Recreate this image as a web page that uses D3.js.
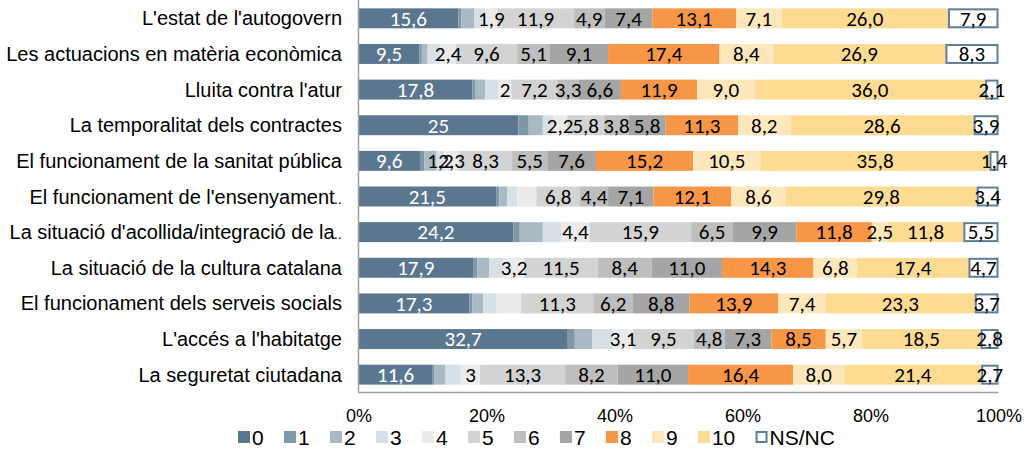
<!DOCTYPE html>
<html>
<head>
<meta charset="utf-8">
<script src="https://cdn.jsdelivr.net/npm/d3@7"></script>
<style>
  body { margin: 0; background: #fff; }
  svg { display: block; }
  .cat { font-family: "Liberation Sans", Arial, sans-serif; font-size: 20px; fill: #000; }
  .tick text { font-family: "Liberation Sans", Arial, sans-serif; font-size: 18px; fill: #000; }
  .lab { font-family: Carlito, Calibri, "Open Sans", sans-serif; font-size: 21px; }
  .leg { font-family: "Liberation Sans", Arial, sans-serif; font-size: 21px; fill: #000; }
</style>
</head>
<body>
<div id="chart"></div>
<script>
// categories (top to bottom)
var categories = [
  "L'estat de l'autogovern",
  "Les actuacions en matèria econòmica",
  "Lluita contra l'atur",
  "La temporalitat dels contractes",
  "El funcionament de la sanitat pública",
  "El funcionament de l'ensenyament…",
  "La situació d'acollida/integració de la…",
  "La situació de la cultura catalana",
  "El funcionament dels serveis socials",
  "L'accés a l'habitatge",
  "La seguretat ciutadana"
];

// answer scale 0..10 plus NS/NC
var seriesNames = ["0", "1", "2", "3", "4", "5", "6", "7", "8", "9", "10", "NS/NC"];

// percentages per category, in series order
var values = [
  [15.6, 0.5, 2.0, 1.7, 1.9, 11.9, 4.9, 7.4, 13.1, 7.1, 26.0, 7.9],
  [9.5, 0.4, 0.9, 2.0, 2.4, 9.6, 5.1, 9.1, 17.4, 8.4, 26.9, 8.3],
  [17.8, 0.5, 1.5, 2.1, 2, 7.2, 3.3, 6.6, 11.9, 9.0, 36.0, 2.1],
  [25, 1.6, 2.2, 1.6, 2.2, 5.8, 3.8, 5.8, 11.3, 8.2, 28.6, 3.9],
  [9.6, 0.7, 1.9, 1.2, 2.3, 8.3, 5.5, 7.6, 15.2, 10.5, 35.8, 1.4],
  [21.5, 0.5, 1.2, 1.6, 3.0, 6.8, 4.4, 7.1, 12.1, 8.6, 29.8, 3.4],
  [24.2, 1.0, 3.6, 2.9, 4.4, 15.9, 6.5, 9.9, 11.8, 2.5, 11.8, 5.5],
  [17.9, 0.7, 1.8, 2.3, 3.2, 11.5, 8.4, 11.0, 14.3, 6.8, 17.4, 4.7],
  [17.3, 0.5, 1.7, 2.1, 3.8, 11.3, 6.2, 8.8, 13.9, 7.4, 23.3, 3.7],
  [32.7, 1.1, 2.7, 3.3, 3.1, 9.5, 4.8, 7.3, 8.5, 5.7, 18.5, 2.8],
  [11.6, 0.3, 1.7, 2.4, 3, 13.3, 8.2, 11.0, 16.4, 8.0, 21.4, 2.7]
];

// data labels as printed on the chart ("" = not shown)
var labels = [
  ["15,6", "", "", "", "1,9", "11,9", "4,9", "7,4", "13,1", "7,1", "26,0", "7,9"],
  ["9,5", "", "", "", "2,4", "9,6", "5,1", "9,1", "17,4", "8,4", "26,9", "8,3"],
  ["17,8", "", "", "", "2", "7,2", "3,3", "6,6", "11,9", "9,0", "36,0", "2,1"],
  ["25", "", "", "", "2,2", "5,8", "3,8", "5,8", "11,3", "8,2", "28,6", "3,9"],
  ["9,6", "", "", "1,2", "2,3", "8,3", "5,5", "7,6", "15,2", "10,5", "35,8", "1,4"],
  ["21,5", "", "", "", "", "6,8", "4,4", "7,1", "12,1", "8,6", "29,8", "3,4"],
  ["24,2", "", "", "", "4,4", "15,9", "6,5", "9,9", "11,8", "2,5", "11,8", "5,5"],
  ["17,9", "", "", "", "3,2", "11,5", "8,4", "11,0", "14,3", "6,8", "17,4", "4,7"],
  ["17,3", "", "", "", "", "11,3", "6,2", "8,8", "13,9", "7,4", "23,3", "3,7"],
  ["32,7", "", "", "", "3,1", "9,5", "4,8", "7,3", "8,5", "5,7", "18,5", "2,8"],
  ["11,6", "", "", "", "3", "13,3", "8,2", "11,0", "16,4", "8,0", "21,4", "2,7"]
];

var xTicks = [0, 20, 40, 60, 80, 100];

var colors = ["#5b7790", "#7f98a8", "#aabac5", "#d7e0e6", "#ebebeb", "#d3d3d3",
              "#bebebe", "#a5a5a5", "#f79646", "#fee7ba", "#fedb92", "#ffffff"];
var nsStroke = "#5f7e97";

var svgWidth = 1029;
var svgHeight = 454;

var svg = d3.select("#chart")
  .append("svg")
  .attr("width", svgWidth)
  .attr("height", svgHeight);

var x = d3.scaleLinear().domain([0, 100]).range([358.5, 998.5]);
var y = d3.scaleBand().domain(categories).range([0.5, 392.5])
  .paddingInner(0.44).paddingOuter(0.22);

var color = d3.scaleOrdinal().domain(seriesNames).range(colors);

// build rows for d3.stack
var rows = categories.map(function(c, i) {
  var r = { cat: c, idx: i };
  seriesNames.forEach(function(s, j) { r[s] = values[i][j]; });
  return r;
});

var stacked = d3.stack().keys(seriesNames)(rows);
stacked.forEach(function(layer) {
  layer.forEach(function(p) { p.key = layer.key; });
});

// bars
var layers = svg.append("g").selectAll("g")
  .data(stacked)
  .enter()
  .append("g")
  .attr("fill", d => color(d.key));

layers.selectAll("rect")
  .data(d => d)
  .enter()
  .append("rect")
  .attr("x", d => x(d[0]))
  .attr("y", d => y(d.data.cat))
  .attr("width", d => x(d[1]) - x(d[0]))
  .attr("height", y.bandwidth())
  .each(function(d) {
    if (d.key === "NS/NC") {
      // box drawn inside the segment
      d3.select(this)
        .attr("x", x(d[0]) + 1)
        .attr("y", y(d.data.cat) + 1)
        .attr("width", x(d[1]) - x(d[0]) - 2)
        .attr("height", y.bandwidth() - 2)
        .attr("stroke", nsStroke)
        .attr("stroke-width", 2);
    }
  });

// data labels, drawn above all bars
svg.append("g").selectAll("g")
  .data(stacked)
  .enter()
  .append("g")
  .selectAll("text")
  .data(d => d)
  .enter()
  .append("text")
  .attr("class", "lab")
  .attr("x", d => x((d[0] + d[1]) / 2))
  .attr("y", d => y(d.data.cat) + y.bandwidth() / 2)
  .attr("dy", "0.35em")
  .attr("text-anchor", "middle")
  .attr("fill", d => d.key === "0" ? "#fff" : "#000")
  .text(d => labels[d.data.idx][seriesNames.indexOf(d.key)]);

// axis lines
svg.append("line")
  .attr("x1", 358.5).attr("x2", 358.5)
  .attr("y1", 0).attr("y2", 392.5)
  .attr("stroke", "#a0a0a0").attr("stroke-width", 1.5);

svg.append("line")
  .attr("x1", 358.5).attr("x2", 998.5)
  .attr("y1", 392.5).attr("y2", 392.5)
  .attr("stroke", "#a0a0a0").attr("stroke-width", 1.5);

// category labels (a trailing ellipsis is drawn small, like the truncated originals)
var catText = svg.append("g").selectAll("text")
  .data(categories)
  .enter()
  .append("text")
  .attr("class", "cat")
  .attr("x", 342)
  .attr("y", d => y(d) + y.bandwidth() / 2)
  .attr("dy", "0.35em")
  .attr("text-anchor", "end");

catText.append("tspan")
  .text(d => d.replace("…", ""));
catText.filter(d => d.endsWith("…"))
  .append("tspan")
  .attr("font-size", "15px")
  .attr("dx", -1)
  .text("..");

// x axis ticks
var xAxis = d3.axisBottom(x)
  .tickValues(xTicks)
  .tickSize(0)
  .tickPadding(17)
  .tickFormat(d => d + "%");

svg.append("g")
  .attr("transform", "translate(0, 392.5)")
  .call(xAxis)
  .call(g => g.select(".domain").remove());

// legend
var legend = svg.append("g").attr("transform", "translate(238, 0)");
var lx = 0;
seriesNames.forEach(function(s, i) {
  var item = legend.append("g").attr("transform", `translate(${lx}, 0)`);
  if (s === "NS/NC") {
    item.append("rect")
      .attr("x", 1).attr("y", 432).attr("width", 10).attr("height", 10)
      .attr("fill", "#fff").attr("stroke", nsStroke).attr("stroke-width", 2);
  } else {
    item.append("rect")
      .attr("x", 0).attr("y", 431).attr("width", 12).attr("height", 12)
      .attr("fill", color(s));
  }
  var t = item.append("text")
    .attr("class", "leg")
    .attr("x", 14)
    .attr("y", 445)
    .text(s);
  lx += 14 + t.node().getComputedTextLength() + 20.3;
});
</script>
</body>
</html>
